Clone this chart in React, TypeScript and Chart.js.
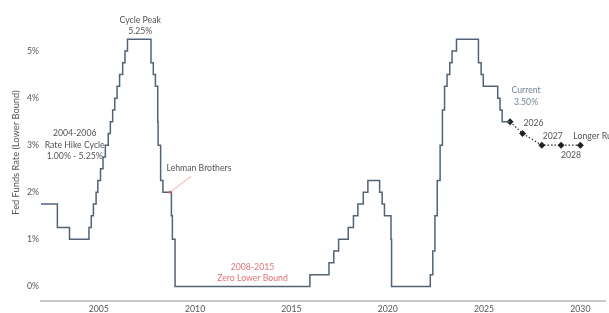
import React, { useEffect, useRef } from "react";
import { Chart, registerables } from "chart.js";

Chart.register(...registerables);

// Fed funds target (lower bound) change dates, as decimal years, and the new level (%)
const rateChangeDates = [
  2002.0, 2002.85, 2003.48, 2004.49, 2004.61, 2004.72, 2004.86, 2004.95,
  2005.09, 2005.22, 2005.34, 2005.49, 2005.6, 2005.72, 2005.83, 2005.95,
  2006.08, 2006.24, 2006.36, 2006.49, 2007.71, 2007.83, 2007.94, 2008.06,
  2008.08, 2008.21, 2008.33, 2008.77, 2008.82, 2008.96, 2015.96, 2016.95,
  2017.2, 2017.45, 2017.95, 2018.22, 2018.45, 2018.73, 2018.97, 2019.58,
  2019.71, 2019.83, 2020.17, 2020.2, 2022.21, 2022.34, 2022.45, 2022.57,
  2022.72, 2022.84, 2022.95, 2023.08, 2023.22, 2023.34, 2023.57, 2024.71,
  2024.85, 2024.96, 2025.71, 2025.83, 2025.94, 2026.35,
];
const rateLowerBound = [
  1.75, 1.25, 1.0, 1.25, 1.5, 1.75, 2.0, 2.25,
  2.5, 2.75, 3.0, 3.25, 3.5, 3.75, 4.0, 4.25,
  4.5, 4.75, 5.0, 5.25, 4.75, 4.5, 4.25, 3.5,
  3.0, 2.25, 2.0, 1.5, 1.0, 0.0, 0.25, 0.5,
  0.75, 1.0, 1.25, 1.5, 1.75, 2.0, 2.25, 2.0,
  1.75, 1.5, 1.0, 0.0, 0.25, 0.75, 1.5, 2.25,
  3.0, 3.75, 4.25, 4.5, 4.75, 5.0, 5.25, 4.75,
  4.5, 4.25, 4.0, 3.75, 3.5, 3.5,
];

// Projection (dot plot medians)
const projectionX = [2026.35, 2027.0, 2028.0, 2029.0, 2030.0];
const projectionRates = [3.5, 3.25, 3.0, 3.0, 3.0];
const projectionLabels = ["", "2026", "2027", "2028", "Longer Run"];

const xTickYears = [2005, 2010, 2015, 2020, 2025, 2030];
const yTickValues = [0, 1, 2, 3, 4, 5];

const lehmanEvent = { x: 2008.7, y: 2.0, label: "Lehman Brothers" };

const FONT = "Lato, 'Noto Sans', sans-serif";
const TEXT = "#555";

const annotationPlugin = {
  id: "annotations",
  afterDatasetsDraw(chart: any) {
    const ctx = chart.ctx as CanvasRenderingContext2D;
    const xs = chart.scales.x;
    const ys = chart.scales.y;
    const px = (v: number) => xs.getPixelForValue(v);
    const py = (v: number) => ys.getPixelForValue(v);
    ctx.save();
    ctx.textBaseline = "middle";

    const drawLines = (lines: string[], x: number, y: number, color: string, align: CanvasTextAlign = "center", lh = 11.5) => {
      ctx.fillStyle = color;
      ctx.textAlign = align;
      ctx.font = `8.7px ${FONT}`;
      lines.forEach((t, i) => ctx.fillText(t, x, y + i * lh));
    };

    drawLines(["Cycle Peak", "5.25%"], px(2007.15), py(5.66), TEXT);
    drawLines(["2004-2006", "Rate Hike Cycle", "1.00% - 5.25%"], px(2003.75), py(3.25), TEXT);
    drawLines(["2008-2015", "Zero Lower Bound"], px(2012.98), py(0.41), "#e27373");

    const lx = px(lehmanEvent.x);
    const ly = py(lehmanEvent.y);
    ctx.strokeStyle = "#f29090";
    ctx.lineWidth = 0.8;
    ctx.beginPath();
    ctx.moveTo(lx, ly);
    ctx.lineTo(lx + 21, ly - 16);
    ctx.stroke();
    ctx.fillStyle = "#e05858";
    ctx.beginPath();
    ctx.arc(lx, ly, 1.4, 0, Math.PI * 2);
    ctx.fill();
    drawLines([lehmanEvent.label], px(2010.2), py(2.52), TEXT);

    const cx = px(projectionX[0]);
    const cy = py(projectionRates[0]);
    drawLines(["Current", "3.50%"], cx + 16, cy - 31, "#74859a");

    projectionLabels.forEach((lab, i) => {
      if (!lab) return;
      const x = px(projectionX[i]);
      const y = py(projectionRates[i]);
      if (i === 1) drawLines([lab], x + 11, y - 10, TEXT);
      else if (i === 2) drawLines([lab], x + 11, y - 9, TEXT);
      else if (i === 3) drawLines([lab], x + 10, y + 10, TEXT);
      else drawLines([lab], x - 7, y - 9, TEXT, "left");
    });
    ctx.restore();
  },
};

export default function App() {
  const ref = useRef<HTMLCanvasElement | null>(null);
  useEffect(() => {
    if (!ref.current) return;
    const chart = new Chart(ref.current, {
      type: "line",
      data: {
        datasets: [
          {
            data: rateChangeDates.map((d, i) => ({ x: d, y: rateLowerBound[i] })),
            stepped: "before",
            borderColor: "#526378",
            borderWidth: 1.5,
            pointRadius: 0,
            fill: false,
          },
          {
            data: projectionX.map((d, i) => ({ x: d, y: projectionRates[i] })),
            borderColor: "#2a2a2a",
            borderWidth: 1.2,
            borderDash: [1.5, 2],
            pointStyle: "rectRot",
            pointRadius: 3.5,
            pointBackgroundColor: "#222",
            pointBorderColor: "#222",
            pointBorderWidth: 0,
            fill: false,
          },
        ],
      },
      options: {
        animation: false,
        responsive: false,
        devicePixelRatio: 1,
        layout: { padding: 0 },
        plugins: { legend: { display: false }, tooltip: { enabled: false } },
        scales: {
          x: {
            type: "linear",
            min: 2002,
            max: 2031.28,
            grid: { display: false, drawTicks: false },
            border: { display: true, color: "#c4c8cc", width: 2 },
            ticks: {
              padding: 3,
              color: TEXT,
              font: { family: FONT, size: 8.7 },
              callback: (v: any) => String(v),
              maxRotation: 0,
            },
            afterBuildTicks: (s: any) => {
              s.ticks = xTickYears.map((v) => ({ value: v }));
            },
            afterFit: (s: any) => {
              s.height = 12;
              s.paddingLeft = 0;
              s.paddingRight = 0;
            },
          },
          y: {
            type: "linear",
            min: -0.31,
            max: 6.0,
            grid: { display: false, drawTicks: false },
            border: { display: false },
            ticks: {
              padding: 2,
              color: TEXT,
              font: { family: FONT, size: 8.7 },
              callback: (v: any) => `${v}%`,
            },
            title: {
              display: true,
              text: "Fed Funds Rate (Lower Bound)",
              color: TEXT,
              font: { family: FONT, size: 9.3 },
              padding: { top: 10.5, bottom: 0 },
            },
            afterBuildTicks: (s: any) => {
              s.ticks = yTickValues.map((v) => ({ value: v }));
            },
            afterFit: (s: any) => {
              s.width = 41;
              s.paddingTop = 0;
              s.paddingBottom = 0;
            },
          },
        },
      },
      plugins: [annotationPlugin],
    } as any);
    return () => chart.destroy();
  }, []);
  return (
    <div style={{ position: "fixed", left: 0, top: 0, width: 609, height: 313, background: "#fff" }}>
      <canvas ref={ref} width={609} height={313} style={{ display: "block" }} />
    </div>
  );
}
